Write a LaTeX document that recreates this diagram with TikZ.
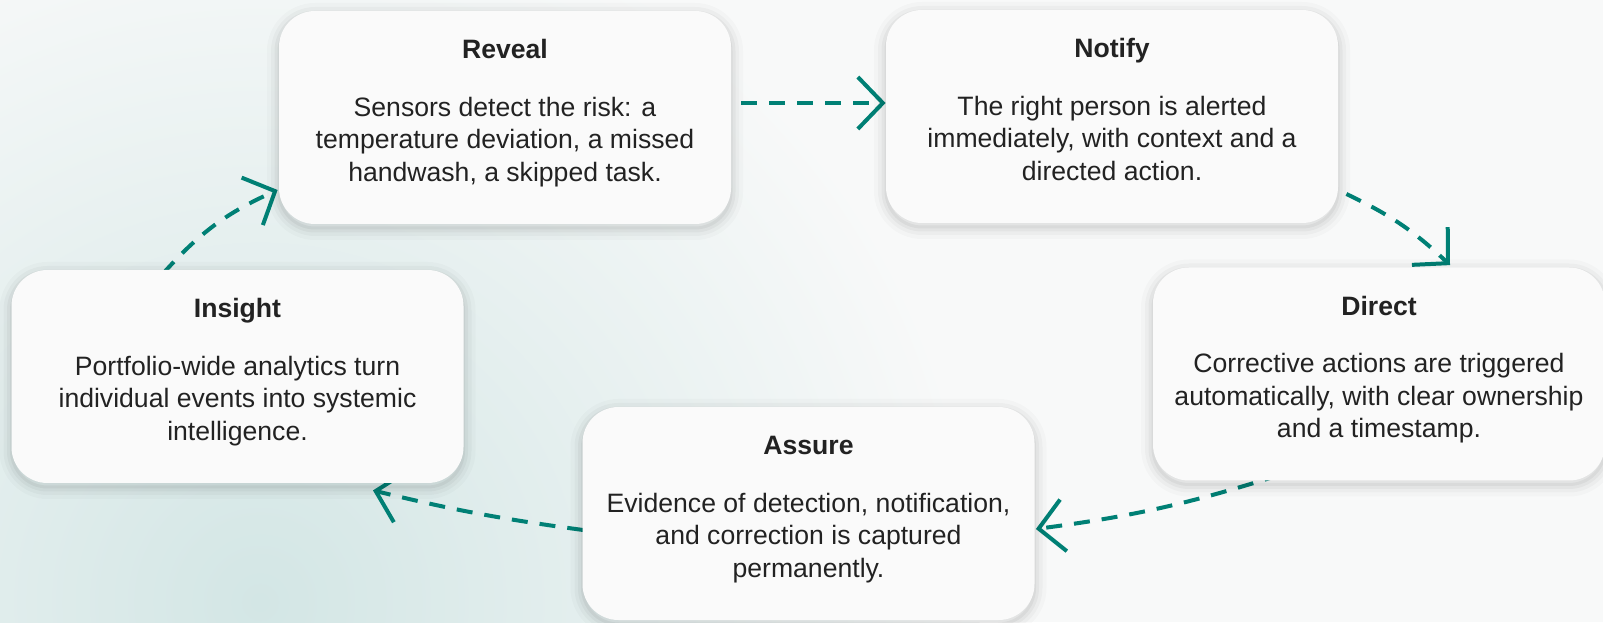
\documentclass[tikz,border=0pt]{standalone}
\usepackage{fontspec}
\setmainfont{Liberation Sans}
\usetikzlibrary{arrows.meta,shadows,backgrounds,positioning}

\definecolor{loopteal}{RGB}{0,128,117}
\definecolor{cardfill}{RGB}{250,250,250}
\definecolor{paper}{RGB}{248,249,249}
\definecolor{papertint}{RGB}{211,230,229}
\definecolor{ink}{RGB}{34,34,34}

\begin{document}
\begin{tikzpicture}[x=0.5pt, y=0.5pt,
  card/.style={rectangle, rounded corners=18pt, fill=cardfill,
    minimum width=226pt, minimum height=106.5pt, inner sep=0pt,
    general shadow={draw=black, line width=12pt, opacity=0.02, shadow yshift=-2pt},
    general shadow={draw=black, line width=8pt, opacity=0.028, shadow yshift=-2pt},
    general shadow={draw=black, line width=4.5pt, opacity=0.036, shadow yshift=-2pt},
    general shadow={draw=black, line width=1.5pt, opacity=0.045, shadow yshift=-2pt}},
  cardtitle/.style={font=\fontsize{13.3}{16}\selectfont\bfseries, text=ink,
    inner sep=0pt, anchor=base},
  cardtext/.style={font=\fontsize{13.3}{16.25}\selectfont, text=ink,
    align=center, inner sep=0pt, anchor=north},
  flow/.style={draw=loopteal, line width=2pt, dash pattern=on 8pt off 6pt,
    -{Straight Barb[length=12.5pt, width=26pt]}}
]
  \useasboundingbox (0,0) rectangle (1603,622);

  % the five steps
  \node[card] (reveal)  at (505,504.5)  {};
  \node[card] (notify)  at (1112,505.5) {};
  \node[card] (direct)  at (1379,248)   {};
  \node[card] (assure)  at (808.5,108.5) {};
  \node[card] (insight) at (237.5,245.5) {};

  \node[cardtitle] (revealTitle) at ([yshift=-24pt]reveal.north) {Reveal};
  \node[cardtext] (revealText) at ([yshift=-43pt]reveal.north)
    {Sensors detect the risk: a\\temperature deviation, a missed\\handwash, a skipped task.};

  \node[cardtitle] (notifyTitle) at ([yshift=-24pt]notify.north) {Notify};
  \node[cardtext] (notifyText) at ([yshift=-43pt]notify.north)
    {The right person is alerted\\immediately, with context and a\\directed action.};

  \node[cardtitle] (directTitle) at ([yshift=-24pt]direct.north) {Direct};
  \node[cardtext] (directText) at ([yshift=-43pt]direct.north)
    {Corrective actions are triggered\\automatically, with clear ownership\\and a timestamp.};

  \node[cardtitle] (assureTitle) at ([yshift=-24pt]assure.north) {Assure};
  \node[cardtext] (assureText) at ([yshift=-43pt]assure.north)
    {Evidence of detection, notification,\\and correction is captured\\permanently.};

  \node[cardtitle] (insightTitle) at ([yshift=-24pt]insight.north) {Insight};
  \node[cardtext] (insightText) at ([yshift=-43pt]insight.north)
    {Portfolio-wide analytics turn\\individual events into systemic\\intelligence.};

  \begin{scope}[on background layer]
    % backdrop with a soft tint in the lower left
    \fill[paper] (0,0) rectangle (1603,622);
    \begin{scope}
      \clip (0,0) rectangle (1603,622);
      \shade[inner color=papertint, outer color=paper] (260,20) circle (720);
    \end{scope}

    % the loop, drawn under the cards
    \draw[flow] ([shift={(10,14.5)}]reveal.east) -- ([shift={(0,13.5)}]notify.west);
    \draw[flow] ([shift={(8,-77.5)}]notify.east) to[bend left=9] ([shift={(71,2)}]direct.north);
    \draw[flow] ([shift={(-99,6)}]direct.south) to[bend left=5] ([shift={(1,-15.5)}]assure.east);
    \draw[flow] ([shift={(1,-16.5)}]assure.west) to[bend left=3] ([shift={(135.5,-7)}]insight.south);
    \draw[flow] ([shift={(-74.5,-4)}]insight.north) to[bend left=12] ([shift={(-1,-72.5)}]reveal.west);
  \end{scope}
\end{tikzpicture}
\end{document}
